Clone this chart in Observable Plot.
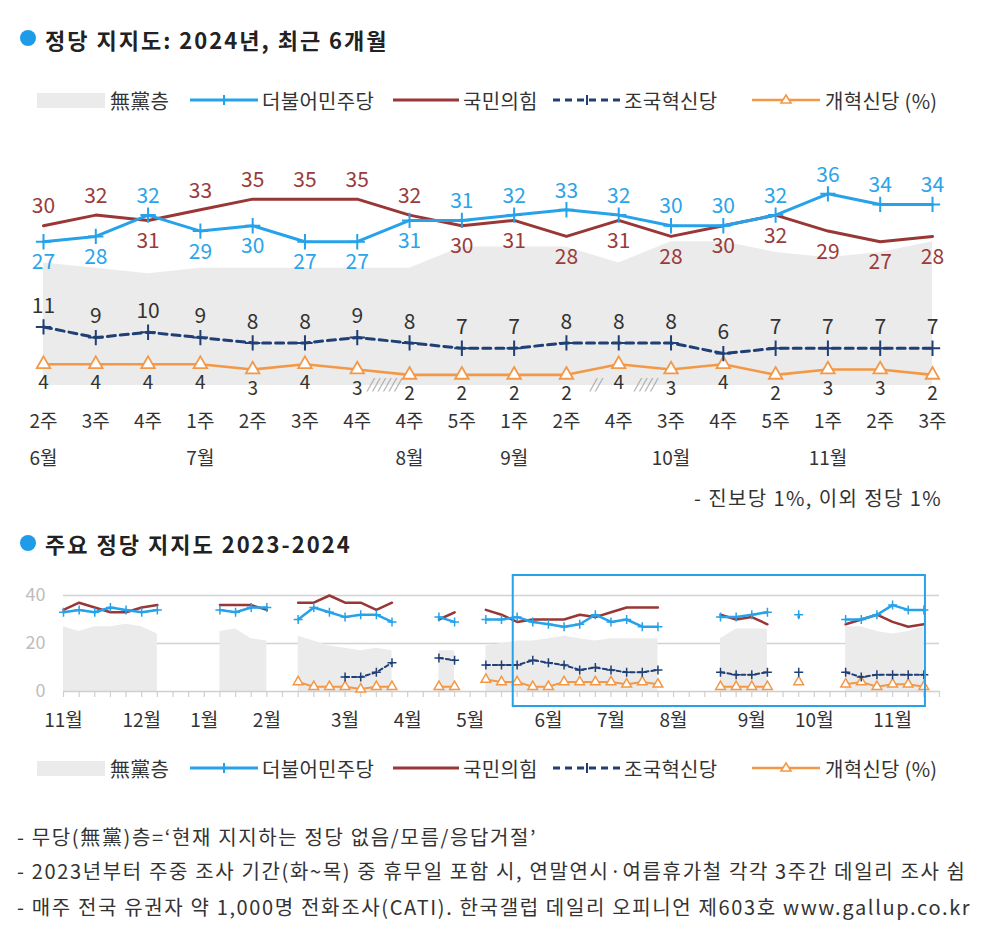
<!DOCTYPE html>
<html>
<head>
<meta charset="utf-8">
<script src="https://cdn.jsdelivr.net/npm/d3@7"></script>
<script src="https://cdn.jsdelivr.net/npm/@observablehq/plot@0.6"></script>
<style>
  body { margin: 0; background: #fff; font-family: "Noto Sans CJK KR", "Noto Sans", sans-serif; color: #2a2a2a; }
  #wrap { position: relative; width: 984px; height: 938px; overflow: hidden; background: #fff; }
  .abs { position: absolute; }
  .flex { position: absolute; display: flex; align-items: center; white-space: nowrap; }
  .ttl { font-size: 22px; font-weight: 700; color: #222; letter-spacing: 2px; }
  .dot { position: absolute; width: 16px; height: 16px; border-radius: 50%; background: #1e9be9; }
  .lt { font-size: 20px; color: #333; letter-spacing: 0.3px; }
  .foot { font-size: 20px; color: #333; left: 17px; height: 30px; letter-spacing: 1.65px; }
  .note { font-size: 20px; color: #333; height: 30px; letter-spacing: 1.4px; }
</style>
</head>
<body>
<div id="wrap">
  <div class="dot" style="left:20px;top:30px"></div>
  <div class="flex ttl" style="left:45px;top:24px;height:30px">정당 지지도: 2024년, 최근 6개월</div>
  <div id="leg1" class="abs" style="left:0;top:88px;width:984px;height:24px"></div>
  <div id="chart1" class="abs" style="left:0;top:140px"></div>
  <div class="flex note" style="right:42px;top:482px">- 진보당 1%, 이외 정당 1%</div>
  <div class="dot" style="left:20px;top:535px"></div>
  <div class="flex ttl" style="left:45px;top:528px;height:30px">주요 정당 지지도 2023-2024</div>
  <div id="chart2" class="abs" style="left:0;top:570px"></div>
  <div id="leg2" class="abs" style="left:0;top:756px;width:984px;height:24px"></div>
  <div class="flex foot" style="top:821px">- 무당(無黨)층=‘현재 지지하는 정당 없음/모름/응답거절’</div>
  <div class="flex foot" style="top:855px">- 2023년부터 주중 조사 기간(화~목) 중 휴무일 포함 시, 연말연시·여름휴가철 각각 3주간 데일리 조사 쉼</div>
  <div class="flex foot" style="top:891px">- 매주 전국 유권자 약 1,000명 전화조사(CATI). 한국갤럽 데일리 오피니언 제603호 www.gallup.co.kr</div>
</div>
<script>
// ---------- Recent 6 months (weekly) ----------
const weekLabels = ["2주","3주","4주","1주","2주","3주","4주","4주","5주","1주","2주","4주","3주","4주","5주","1주","2주","3주"];
const monthAt    = [0, 3, 7, 9, 12, 15];
const monthNames = ["6월","7월","8월","9월","10월","11월"];
const dpRecent      = [27,28,32,29,30,27,27,31,31,32,33,32,30,30,32,36,34,34];
const pppRecent     = [30,32,31,33,35,35,35,32,30,31,28,31,28,30,32,29,27,28];
const rebuildRecent = [11,9,10,9,8,8,9,8,7,7,8,8,8,6,7,7,7,7];
const reformRecent  = [4,4,4,4,3,4,3,2,2,2,2,4,3,4,2,3,3,2];
const indRecent     = [23,22,21,22,22,22,22,22,26,26,26,23,27,27,25,24,25,27];
const hatchPos   = [6.5, 10.55, 11.5];
const hatchText  = ["//////", "//", "////"];

// ---------- 2023-11 .. 2024-11 weekly history (null = no survey) ----------
const n = null;
const dpHistory  = [33,34,33,35,34,33,34, n,n,n, 34,33,35,35, n, 30,35,33,31,32,32,29, n,n, 31,29, n, 30,30,31,29,28, 27,28,32,29,30,27,27, n,n,n, 31,31,32,33, n, 32, n,n, 30,30,32,36,34,34];
const pppHistory = [34,37,35,33,33,35,36, n,n,n, 36,36,36,34, n, 37,37,40,37,37,34,37, n,n, 30,33, n, 34,32,29,30,30, 30,32,31,33,35,35,35, n,n,n, 32,30,31,28, n, 31, n,n, 28,30,32,29,27,28];
const rebHistory = [n,n,n,n,n,n,n,n,n,n,n,n,n,n,n,n,n,n, 6,6,8,12, n,n, 14,13, n, 11,11,11,13,12, 11,9,10,9,8,8,9, n,n,n, 8,7,7,8, n, 8, n,n, 8,6,7,7,7,7];
const refHistory = [n,n,n,n,n,n,n,n,n,n,n,n,n,n,n, 4,2,2,2,1,2,2, n,n, 2,2, n, 5,4,4,2,2, 4,4,4,4,3,4,3, n,n,n, 2,2,2,2, n, 4, n,n, 3,4,2,3,3,2];
const indHistory = [27,25,27,27,28,27,24, n,n,n, 25,26,22,21, n, 23,21,19,18,17,18,17, n,n, 17,17, n, 19,20,21,21,22, 23,22,21,22,22,22,22, n,n,n, 22,26,26,26, n, 23, n,n, 27,27,25,24,25,27];
const monthTickWeeks = [0,5,9,13,18,22,26,31,35,39,44,48,53];
const monthTickNames = ["11월","12월","1월","2월","3월","4월","5월","6월","7월","8월","9월","10월","11월"];
const yTicks = [0, 20, 40];
const highlightWeeks = [28.75, 55.1];
const weekCount = 56;

const C = { dp: "#26a2ea", ppp: "#993636", reb: "#1f3f75", ref: "#f39846", ind: "#ebebeb",
            dpText: "#2aa4ea", pppText: "#9a3b3b", dark: "#333" };
const FONT = '"Noto Sans CJK KR", "Noto Sans", sans-serif';

// ---------- Top chart ----------
const recent = weekLabels.map((w, i) => ({
  i, week: w, dp: dpRecent[i], ppp: pppRecent[i], reb: rebuildRecent[i], ref: reformRecent[i], ind: indRecent[i]
}));
const monthRows = monthAt.map((i, j) => ({ i, label: monthNames[j] }));
const hatchRows = hatchPos.map((p, j) => ({ p, t: hatchText[j] }));

const topChart = Plot.plot({
  width: 984, height: 340,
  marginLeft: 43, marginRight: 52, marginTop: 32, marginBottom: 95,
  x: { domain: [0, 17], axis: null },
  y: { domain: [0, 40], axis: null },
  style: { fontFamily: FONT, background: "transparent", overflow: "visible" },
  marks: [
    Plot.area(recent, { x1: "i", y1: () => 0, y2: "ind", fill: C.ind }),
    Plot.text(hatchRows, { x: "p", y: () => 0, text: "t", fill: "#999", fontSize: 14, fontStyle: "italic", dy: -1 }),
    Plot.line(recent, { x: "i", y: "ref", stroke: C.ref, strokeWidth: 2.6 }),
    Plot.dot(recent, { x: "i", y: "ref", symbol: "triangle", r: 5, stroke: C.ref, fill: "white", strokeWidth: 1.8 }),
    Plot.line(recent, { x: "i", y: "reb", stroke: C.reb, strokeWidth: 3, strokeDasharray: "8,5" }),
    Plot.dot(recent, { x: "i", y: "reb", symbol: "plus", r: 5, stroke: C.reb, strokeWidth: 2 }),
    Plot.line(recent, { x: "i", y: "ppp", stroke: C.ppp, strokeWidth: 3 }),
    Plot.line(recent, { x: "i", y: "dp", stroke: C.dp, strokeWidth: 3 }),
    Plot.dot(recent, { x: "i", y: "dp", symbol: "plus", r: 5, stroke: C.dp, strokeWidth: 2 }),
    // value labels
    Plot.text(recent.filter(d => d.dp >= d.ppp), { x: "i", y: "dp", text: "dp", dy: -19, fill: C.dpText, fontSize: 21 }),
    Plot.text(recent.filter(d => d.dp < d.ppp), { x: "i", y: "dp", text: "dp", dy: 21, fill: C.dpText, fontSize: 21 }),
    Plot.text(recent.filter(d => d.dp < d.ppp), { x: "i", y: "ppp", text: "ppp", dy: -19, fill: C.pppText, fontSize: 21 }),
    Plot.text(recent.filter(d => d.dp >= d.ppp), { x: "i", y: "ppp", text: "ppp", dy: 21, fill: C.pppText, fontSize: 21 }),
    Plot.text(recent, { x: "i", y: "reb", text: "reb", dy: -21, fill: C.dark, fontSize: 21 }),
    Plot.text(recent, { x: "i", y: "ref", text: "ref", dy: 19, fill: C.dark, fontSize: 19 }),
    // week & month labels
    Plot.text(recent, { x: "i", y: () => 0, text: "week", dy: 36, fill: C.dark, fontSize: 19 }),
    Plot.text(monthRows, { x: "i", y: () => 0, text: "label", dy: 73, fill: C.dark, fontSize: 19 })
  ]
});
document.getElementById("chart1").appendChild(topChart);

// ---------- Bottom chart ----------
const hist = dpHistory.map((v, w) => ({
  w, dp: v, ppp: pppHistory[w], reb: rebHistory[w], ref: refHistory[w], ind: indHistory[w]
}));
const monthTickRows = monthTickWeeks.map((w, j) => ({ w, label: monthTickNames[j] }));

const bottomChart = Plot.plot({
  width: 984, height: 170,
  marginLeft: 63, marginRight: 45, marginTop: 25, marginBottom: 49,
  x: { domain: [0, weekCount], axis: null },
  y: { domain: [0, 40], axis: null },
  style: { fontFamily: FONT, background: "transparent", overflow: "visible" },
  marks: [
    Plot.ruleY(yTicks.filter(t => t > 0), { stroke: "#d2d2d2", strokeWidth: 1.5 }),
    Plot.area(hist, { x1: "w", y1: () => 0, y2: "ind", fill: C.ind }),
    Plot.axisX({ ticks: d3.range(0, weekCount + 1), tickSize: 6, tickFormat: () => "", stroke: "#cfcfcf", strokeWidth: 1.2 }),
    Plot.ruleY([0], { stroke: "#cfcfcf", strokeWidth: 1.5 }),
    Plot.axisY({ ticks: yTicks, tickSize: 0, tickPadding: 18, fontSize: 18, color: "#bdbdbd" }),
    Plot.line(hist, { x: "w", y: "ref", stroke: C.ref, strokeWidth: 2 }),
    Plot.dot(hist.filter(d => d.ref != null), { x: "w", y: "ref", symbol: "triangle", r: 3.6, stroke: C.ref, fill: "white", strokeWidth: 1.5 }),
    Plot.line(hist, { x: "w", y: "reb", stroke: C.reb, strokeWidth: 2, strokeDasharray: "4,3" }),
    Plot.dot(hist.filter(d => d.reb != null), { x: "w", y: "reb", symbol: "plus", r: 3, stroke: C.reb, strokeWidth: 1.5 }),
    Plot.line(hist, { x: "w", y: "ppp", stroke: C.ppp, strokeWidth: 2.5 }),
    Plot.line(hist, { x: "w", y: "dp", stroke: C.dp, strokeWidth: 2.5 }),
    Plot.dot(hist.filter(d => d.dp != null), { x: "w", y: "dp", symbol: "plus", r: 3, stroke: C.dp, strokeWidth: 1.5 }),
    Plot.rect([{ a: highlightWeeks[0], b: highlightWeeks[1] }], { x1: "a", x2: "b", fill: "none", stroke: C.dp, strokeWidth: 2, insetTop: -20, insetBottom: -15 }),
    Plot.text(monthTickRows, { x: "w", y: () => 0, text: "label", dy: 29, fill: C.dark, fontSize: 19 })
  ]
});
document.getElementById("chart2").appendChild(bottomChart);

// ---------- Legends ----------
const legendItems = [
  { label: "無黨층",      kind: "area",  sx: 37,  sw: 68, tx: 110 },
  { label: "더불어민주당", kind: "dp",    sx: 190, sw: 68, tx: 262 },
  { label: "국민의힘",    kind: "ppp",   sx: 393, sw: 66, tx: 463 },
  { label: "조국혁신당",  kind: "reb",   sx: 553, sw: 68, tx: 624 },
  { label: "개혁신당 (%)", kind: "ref",   sx: 752, sw: 68, tx: 825 }
];
function swatch(kind, w) {
  const m = w / 2;
  if (kind === "area") return `<svg width="${w}" height="24"><rect x="0" y="5" width="${w}" height="15" fill="${C.ind}"/></svg>`;
  if (kind === "dp") return `<svg width="${w}" height="24"><line x1="0" x2="${w}" y1="12" y2="12" stroke="${C.dp}" stroke-width="3"/><line x1="${m}" x2="${m}" y1="7" y2="17" stroke="${C.dp}" stroke-width="2"/></svg>`;
  if (kind === "ppp") return `<svg width="${w}" height="24"><line x1="0" x2="${w}" y1="12" y2="12" stroke="${C.ppp}" stroke-width="3"/></svg>`;
  if (kind === "reb") return `<svg width="${w}" height="24"><line x1="0" x2="${w}" y1="12" y2="12" stroke="${C.reb}" stroke-width="3" stroke-dasharray="7,5"/><line x1="${m}" x2="${m}" y1="7" y2="17" stroke="${C.reb}" stroke-width="2"/></svg>`;
  return `<svg width="${w}" height="24"><line x1="0" x2="${w}" y1="12" y2="12" stroke="${C.ref}" stroke-width="2.6"/><path d="M${m},7 L${m + 5},15 L${m - 5},15 Z" fill="white" stroke="${C.ref}" stroke-width="1.6"/></svg>`;
}
for (const id of ["leg1", "leg2"]) {
  const el = document.getElementById(id);
  el.innerHTML = legendItems.map(d =>
    `<div class="abs" style="left:${d.sx}px;top:0;height:24px">${swatch(d.kind, d.sw)}</div>` +
    `<div class="flex lt" style="left:${d.tx}px;top:0;height:24px">${d.label}</div>`
  ).join("");
}
</script>
</body>
</html>
